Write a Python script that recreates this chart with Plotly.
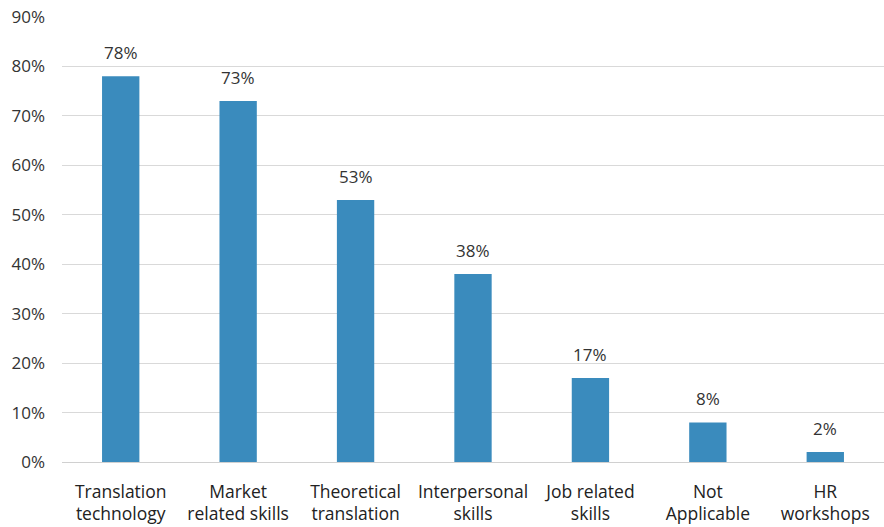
import plotly.graph_objects as go

categories = ["Translation<br>technology", "Market<br>related skills", "Theoretical<br>translation",
              "Interpersonal<br>skills", "Job related<br>skills", "Not<br>Applicable", "HR<br>workshops"]
values = [78, 73, 53, 38, 17, 8, 2]
labels = [f"{v}%" for v in values]

FONT = "Open Sans"
fig = go.Figure(go.Bar(
    x=categories, y=values,
    marker=dict(color="#3a8bbd", line=dict(width=0)),
))
for c, v, t in zip(categories, values, labels):
    fig.add_annotation(x=c, y=v, text=t, showarrow=False, yanchor="bottom", yshift=10,
                       font=dict(size=17, color="#333333", family=FONT))
fig.update_layout(
    width=884, height=527,
    margin=dict(l=62, r=0, t=17, b=65),
    paper_bgcolor="white", plot_bgcolor="white",
    bargap=0.682,
    showlegend=False,
    font=dict(family=FONT, size=17, color="#333333"),
    yaxis=dict(range=[0, 90], dtick=10, ticksuffix="%", gridcolor="#d9d9d9", gridwidth=1,
               zeroline=True, zerolinecolor="#d0d0d0", zerolinewidth=1, showline=False,
               ticks="", ticklen=0,
               tickfont=dict(size=17, color="#333333", family=FONT), ticklabelstandoff=16,
               automargin=False),
    xaxis=dict(showline=False, tickfont=dict(size=17.5, color="#222222", family=FONT), ticks="",
               ticklen=0, ticklabelstandoff=17, automargin=False),
)
fig.write_html("out.html", config={"displayModeBar": False},
               post_script="document.body.style.margin='0';")
